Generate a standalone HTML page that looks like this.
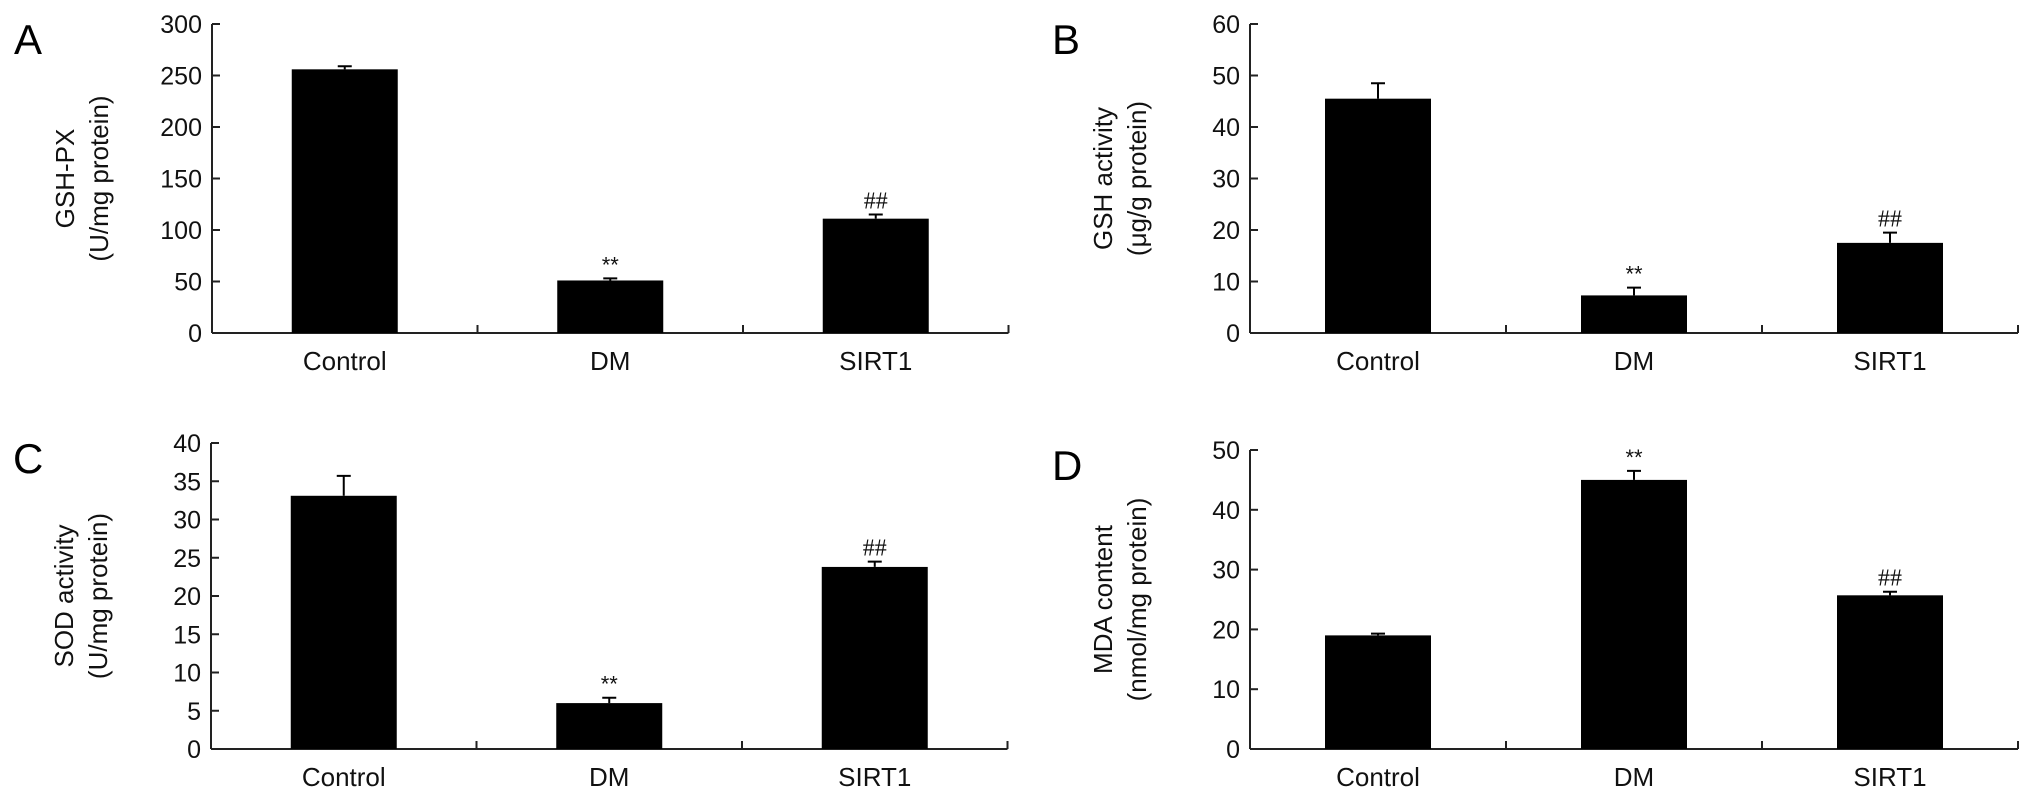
<!DOCTYPE html>
<html><head><meta charset="utf-8"><style>
html,body{margin:0;padding:0;background:#fff;}
svg{display:block;font-family:"Liberation Sans",sans-serif;}
</style></head><body>
<svg id="fig" width="2032" height="799" viewBox="0 0 2032 799" xmlns="http://www.w3.org/2000/svg"></svg>
<script>
const categories = ["Control", "DM", "SIRT1"];
const valuesA = [256, 51, 111];
const errorsA = [3, 2, 4];
const marksA = ["", "**", "##"];
const ticksA = [0, 50, 100, 150, 200, 250, 300];
const valuesB = [45.5, 7.3, 17.5];
const errorsB = [3, 1.5, 2];
const marksB = ["", "**", "##"];
const ticksB = [0, 10, 20, 30, 40, 50, 60];
const valuesC = [33.1, 6, 23.8];
const errorsC = [2.6, 0.7, 0.7];
const marksC = ["", "**", "##"];
const ticksC = [0, 5, 10, 15, 20, 25, 30, 35, 40];
const valuesD = [19, 45, 25.7];
const errorsD = [0.3, 1.5, 0.6];
const marksD = ["", "**", "##"];
const ticksD = [0, 10, 20, 30, 40, 50];

const NS = "http://www.w3.org/2000/svg";
const svg = document.getElementById("fig");
function mk(tag, attrs, parent, text) {
  const e = document.createElementNS(NS, tag);
  for (const k in attrs) e.setAttribute(k, attrs[k]);
  if (text !== undefined) e.textContent = text;
  (parent || svg).appendChild(e);
  return e;
}

function panel(cfg) {
  const g = mk("g", {});
  
  
  const x0 = cfg.x0, y0 = cfg.y0, yTop = cfg.yTop;
  const ymax = cfg.ticks[cfg.ticks.length - 1];
  const ys = v => y0 - (v / ymax) * (y0 - yTop);
  const step = cfg.step;
  const xc = i => x0 + step * (i + 0.5);
  const bw = 106;

  const L = mk("text", {x: cfg.x0 - 198, y: yTop + 30, "font-size": 42, fill: "#000"}, g, cfg.letter);
  
  

  const ya = mk("line", {x1: x0, y1: yTop, x2: x0, y2: y0, stroke: "#222", "stroke-width": 2}, g);
  
  
  cfg.ticks.forEach(t => {
    const y = ys(t);
    const tk = mk("line", {x1: x0, y1: y, x2: x0 + 8, y2: y, stroke: "#222", "stroke-width": 2}, g);
    
    
    const tl = mk("text", {x: x0 - 10, y: y + 9, "font-size": 25, "text-anchor": "end", fill: "#111"}, g, String(t));
    
    
  });
  const xEnd = x0 + step * 3;
  const xa = mk("line", {x1: x0, y1: y0, x2: xEnd, y2: y0, stroke: "#222", "stroke-width": 2}, g);
  
  
  for (let i = 1; i <= 3; i++) {
    const tx = x0 + step * i;
    const tk = mk("line", {x1: tx, y1: y0, x2: tx, y2: y0 - 8, stroke: "#222", "stroke-width": 2}, g);
    
    
  }
  const cy = (y0 + yTop) / 2;
  const tx1 = x0 - 138, tx2 = x0 - 104;
  const t1 = mk("text", {x: tx1, y: cy, "font-size": 26, "text-anchor": "middle", transform: `rotate(-90 ${tx1} ${cy})`, fill: "#111"}, g, cfg.title1);
  
  
  const t2 = mk("text", {x: tx2, y: cy, "font-size": 26, "text-anchor": "middle", transform: `rotate(-90 ${tx2} ${cy})`, fill: "#111"}, g, cfg.title2);
  
  

  categories.forEach((c, i) => {
    const v = cfg.values[i], e = cfg.errors[i];
    const b = mk("rect", {x: xc(i) - bw / 2, y: ys(v), width: bw, height: y0 - ys(v), fill: "#000"}, g);
    
    
    const eb = mk("path", {d: `M${xc(i)} ${ys(v)} V${ys(v + e)} M${xc(i) - 7} ${ys(v + e)} H${xc(i) + 7}`, stroke: "#000", "stroke-width": 2, fill: "none"}, g);
    
    
    if (cfg.marks[i]) {
      const m = mk("text", {x: xc(i), y: ys(v + e) - 6, "font-size": cfg.marks[i] === "##" ? 24 : 22, "text-anchor": "middle", fill: "#111", "font-family": cfg.marks[i] === "##" ? "Liberation Serif, serif" : "Liberation Sans, sans-serif"}, g, cfg.marks[i]);
      
      
    }
    const cl = mk("text", {x: xc(i), y: y0 + 37, "font-size": 26, "text-anchor": "middle", fill: "#111"}, g, c);
    
    
  });
}

panel({letter: "A", x0: 212, y0: 333, yTop: 24, step: 265.5, ticks: ticksA, values: valuesA, errors: errorsA, marks: marksA, title1: "GSH-PX", title2: "(U/mg protein)"});
panel({letter: "B", x0: 1250, y0: 333, yTop: 24, step: 256, ticks: ticksB, values: valuesB, errors: errorsB, marks: marksB, title1: "GSH activity", title2: "(μg/g protein)"});
panel({letter: "C", x0: 211, y0: 749, yTop: 443, step: 265.5, ticks: ticksC, values: valuesC, errors: errorsC, marks: marksC, title1: "SOD activity", title2: "(U/mg protein)"});
panel({letter: "D", x0: 1250, y0: 749, yTop: 450, step: 256, ticks: ticksD, values: valuesD, errors: errorsD, marks: marksD, title1: "MDA content", title2: "(nmol/mg protein)"});
</script>
</body></html>
